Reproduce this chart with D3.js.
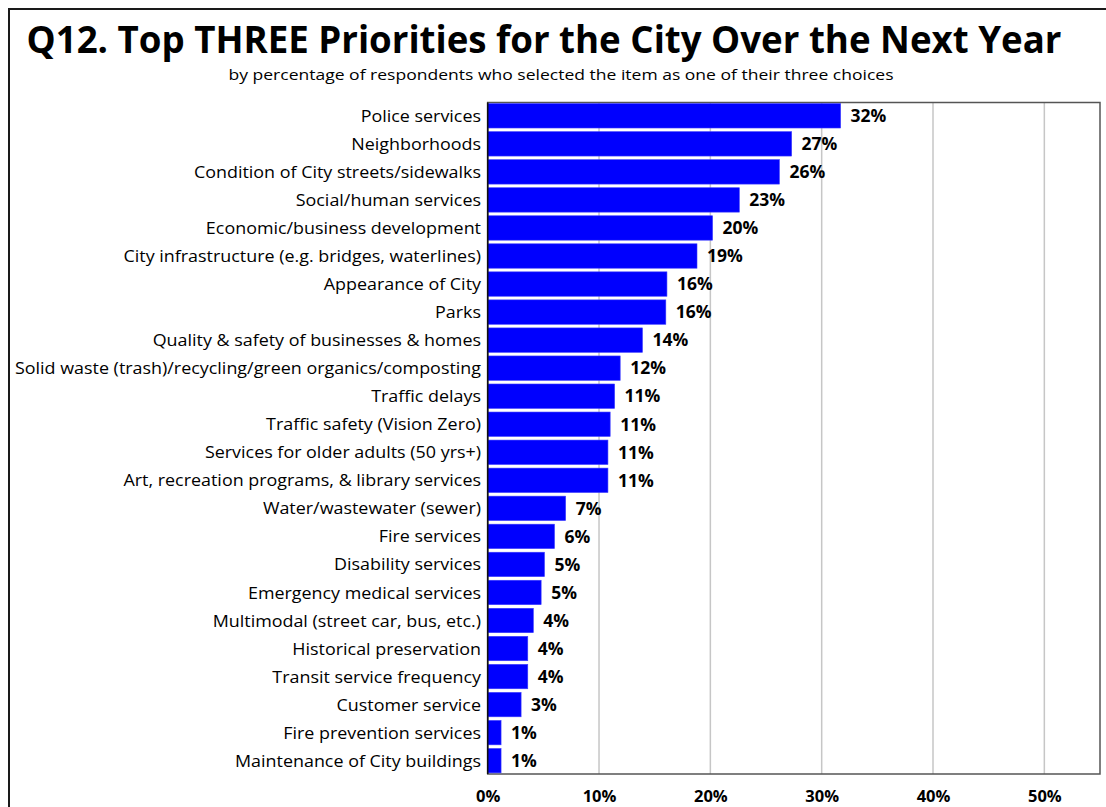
<!DOCTYPE html>
<html>
<head>
<meta charset="utf-8">
<script src="https://cdn.jsdelivr.net/npm/d3@7"></script>
<style>
  html, body { margin: 0; padding: 0; background: #fff; }
  svg { display: block; }
  text { font-family: "Open Sans", "DejaVu Sans", sans-serif; }
</style>
</head>
<body>
<svg id="chart" width="1106" height="807"></svg>
<script>
// Survey items, in chart order (top to bottom)
const categories = [
  "Police services",
  "Neighborhoods",
  "Condition of City streets/sidewalks",
  "Social/human services",
  "Economic/business development",
  "City infrastructure (e.g. bridges, waterlines)",
  "Appearance of City",
  "Parks",
  "Quality & safety of businesses & homes",
  "Solid waste (trash)/recycling/green organics/composting",
  "Traffic delays",
  "Traffic safety (Vision Zero)",
  "Services for older adults (50 yrs+)",
  "Art, recreation programs, & library services",
  "Water/wastewater (sewer)",
  "Fire services",
  "Disability services",
  "Emergency medical services",
  "Multimodal (street car, bus, etc.)",
  "Historical preservation",
  "Transit service frequency",
  "Customer service",
  "Fire prevention services",
  "Maintenance of City buildings"
];

// Percentage of respondents selecting each item
const percentSelected = [
  31.7, 27.3, 26.2, 22.6, 20.2, 18.8, 16.1, 16.0, 13.9, 11.9, 11.4, 11.0,
  10.8, 10.8, 7.0, 6.0, 5.1, 4.8, 4.1, 3.6, 3.6, 3.0, 1.2, 1.2
];

// Axis ticks (percent)
const tickValues = [0, 10, 20, 30, 40, 50];
const axisMax = 55;

const titleText = "Q12. Top THREE Priorities for the City Over the Next Year";
const subtitleText = "by percentage of respondents who selected the item as one of their three choices";

const data = categories.map((c, i) => ({ name: c, value: percentSelected[i] }));

const svg = d3.select("#chart");

// Squeeze a text element horizontally by a factor (narrow humanist look)
function squeeze(sel, factor) {
  sel.each(function () {
    const w = this.getComputedTextLength();
    d3.select(this).attr("textLength", w * factor).attr("lengthAdjust", "spacingAndGlyphs");
  });
}

// Outer frame (top and left edges)
svg.append("path")
  .attr("d", "M9,807 L9,9 L1106,9")
  .attr("fill", "none")
  .attr("stroke", "#1a1a1a")
  .attr("stroke-width", 2);

// Title
svg.append("text")
  .attr("x", 544).attr("y", 53)
  .attr("text-anchor", "middle")
  .attr("font-size", 37.5).attr("font-weight", 700)
  .attr("fill", "#000")
  .attr("textLength", 1035)
  .attr("lengthAdjust", "spacingAndGlyphs")
  .text(titleText);

// Subtitle
svg.append("text")
  .attr("x", 561).attr("y", 80)
  .attr("text-anchor", "middle")
  .attr("font-size", 14.5)
  .attr("fill", "#000")
  .attr("textLength", 665)
  .attr("lengthAdjust", "spacingAndGlyphs")
  .text(subtitleText);

// Plot area
const plot = { left: 487.7, right: 1100, top: 102.5, bottom: 774 };

const x = d3.scaleLinear().domain([0, axisMax]).range([plot.left, plot.right]);
const y = d3.scaleBand()
  .domain(categories)
  .range([plot.top, plot.bottom])
  .paddingInner(0.13)
  .paddingOuter(0.04);

// Vertical gridlines
svg.append("g")
  .selectAll("line")
  .data(tickValues.filter(t => t > 0))
  .join("line")
  .attr("x1", d => x(d)).attr("x2", d => x(d))
  .attr("y1", plot.top).attr("y2", plot.bottom)
  .attr("stroke", "#c6c6c6")
  .attr("stroke-width", 1.5);

// Plot border
svg.append("rect")
  .attr("x", plot.left).attr("y", plot.top)
  .attr("width", plot.right - plot.left)
  .attr("height", plot.bottom - plot.top)
  .attr("fill", "none")
  .attr("stroke", "#555")
  .attr("stroke-width", 1.5);

// Bars
svg.append("g")
  .selectAll("rect")
  .data(data)
  .join("rect")
  .attr("x", x(0))
  .attr("y", d => y(d.name))
  .attr("width", d => x(d.value) - x(0))
  .attr("height", y.bandwidth())
  .attr("fill", "#0000fe")
  .attr("stroke", "#3a3aff")
  .attr("stroke-width", 0.6);

// Left axis line
svg.append("line")
  .attr("x1", plot.left).attr("x2", plot.left)
  .attr("y1", plot.top).attr("y2", plot.bottom)
  .attr("stroke", "#111")
  .attr("stroke-width", 1.6);

// Category labels
const catLabels = svg.append("g")
  .selectAll("text")
  .data(data)
  .join("text")
  .attr("x", 481)
  .attr("y", d => y(d.name) + y.bandwidth() / 2)
  .attr("dy", "0.36em")
  .attr("text-anchor", "end")
  .attr("font-size", 16.8)
  .attr("fill", "#000")
  .text(d => d.name);
{
  const longest = d3.max(catLabels.nodes(), n => n.getComputedTextLength());
  squeeze(catLabels, 466 / longest);
}

// Value labels
svg.append("g")
  .selectAll("text")
  .data(data)
  .join("text")
  .attr("x", d => x(d.value) + 10)
  .attr("y", d => y(d.name) + y.bandwidth() / 2)
  .attr("dy", "0.36em")
  .attr("font-size", 17.5)
  .attr("font-weight", 700)
  .attr("fill", "#000")
  .text(d => Math.round(d.value) + "%");

// X axis tick labels
const xAxis = d3.axisBottom(x)
  .tickValues(tickValues)
  .tickSize(0)
  .tickPadding(0)
  .tickFormat(d => d + "%");

const axisG = svg.append("g")
  .attr("transform", `translate(0,${plot.bottom})`)
  .call(xAxis);
axisG.select(".domain").remove();
axisG.selectAll("text")
  .attr("y", 22)
  .attr("dy", "0.36em")
  .attr("font-size", 16.5)
  .attr("font-weight", 700)
  .attr("fill", "#000")
  .style("font-family", "'Open Sans', sans-serif");
</script>
</body>
</html>
